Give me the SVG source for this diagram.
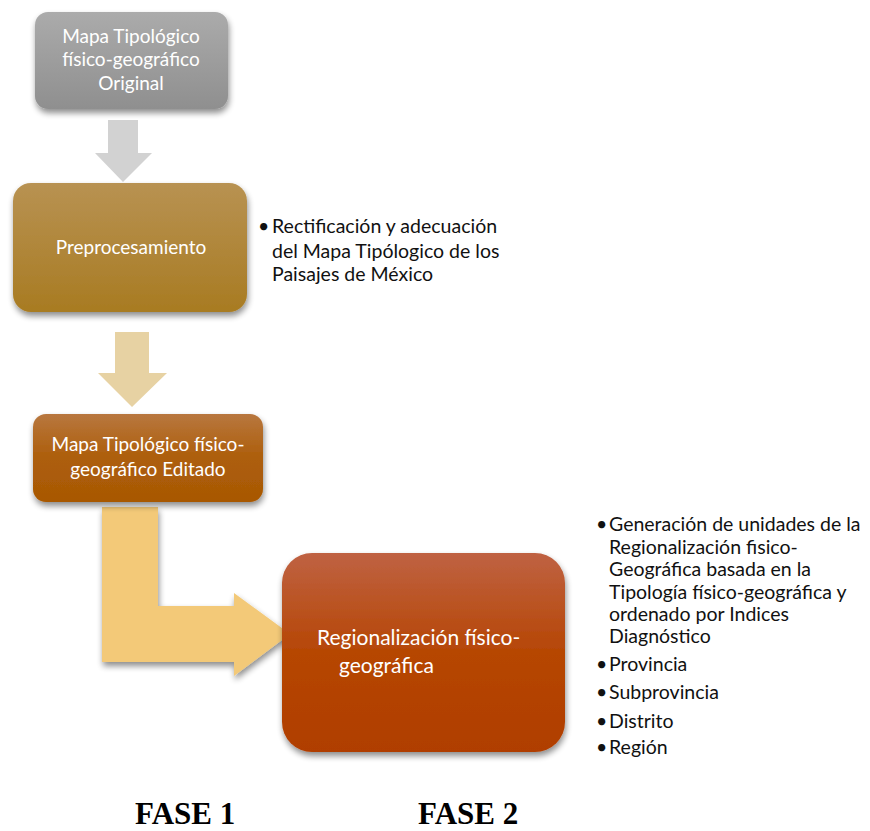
<svg xmlns="http://www.w3.org/2000/svg" width="870" height="831" viewBox="0 0 870 831">
<style>
.nt{font-family:Lato,"Noto Sans","Liberation Sans",sans-serif;fill:#ffffff;font-size:19px}
.bt{font-family:Lato,"Noto Sans","Liberation Sans",sans-serif;fill:#111111;font-size:19.5px}
.fase{font-family:"Liberation Serif","Times New Roman",serif;font-weight:bold;font-size:31px;fill:#000}
</style>
<defs>
<filter id="sh" x="-10%" y="-10%" width="125%" height="130%">
<feGaussianBlur in="SourceAlpha" stdDeviation="3"/>
<feOffset dx="1" dy="4" result="b"/>
<feComponentTransfer><feFuncA type="linear" slope="0.45"/></feComponentTransfer>
<feMerge><feMergeNode/><feMergeNode in="SourceGraphic"/></feMerge>
</filter>
<linearGradient id="g1" x1="0" y1="0" x2="0" y2="1"><stop offset="0" stop-color="#ababab"/><stop offset="1" stop-color="#8f8f8f"/></linearGradient>
<linearGradient id="g2" x1="0" y1="0" x2="0" y2="1"><stop offset="0" stop-color="#b89252"/><stop offset="1" stop-color="#a87b22"/></linearGradient>
<linearGradient id="g3" x1="0" y1="0" x2="0" y2="1"><stop offset="0" stop-color="#b8773f"/><stop offset="0.5" stop-color="#ad5e0a"/><stop offset="1" stop-color="#a85804"/></linearGradient>
<linearGradient id="g4" x1="0" y1="0" x2="0" y2="1"><stop offset="0" stop-color="#bf6243"/><stop offset="0.5" stop-color="#b64604"/><stop offset="1" stop-color="#b03e00"/></linearGradient>
</defs>
<g id="connectors">
<polygon points="108,120 138,120 138,153 152,153 123,182 95,153 108,153" fill="#d2d2d2"/>
<polygon points="115,332 149,332 149,373 167,373 132,407 98,373 115,373" fill="#e7d2a3"/>
<polygon points="102,507 158,507 158,606 234,606 234,593 290,634 234,676 234,662 102,662" fill="#f3c978" filter="url(#sh)"/>
</g>
<g id="n1">
<rect x="35" y="12" width="193" height="97" rx="13" fill="url(#g1)" filter="url(#sh)"/>
<text class="nt" text-anchor="middle" x="131" y="43">Mapa Tipológico</text>
<text class="nt" text-anchor="middle" x="131" y="66">físico-geográfico</text>
<text class="nt" text-anchor="middle" x="131" y="90">Original</text>
</g>
<g id="n2">
<rect x="13" y="183" width="234" height="129" rx="18" fill="url(#g2)" filter="url(#sh)"/>
<text class="nt" text-anchor="middle" x="131" y="254">Preprocesamiento</text>
</g>
<g id="n2note">
<text class="bt" x="258" y="233">•</text>
<text class="bt" x="272" y="233">Rectificación y adecuación</text>
<text class="bt" x="272" y="258">del Mapa Tipólogico de los</text>
<text class="bt" x="272" y="281">Paisajes de México</text>
</g>
<g id="n3">
<rect x="33" y="414" width="230" height="88" rx="13" fill="url(#g3)" filter="url(#sh)"/>
<text class="nt" text-anchor="middle" x="148" y="451">Mapa Tipológico físico-</text>
<text class="nt" text-anchor="middle" x="148" y="476">geográfico Editado</text>
</g>
<g id="n4">
<rect x="282" y="553" width="283" height="199" rx="30" fill="url(#g4)" filter="url(#sh)"/>
<text class="nt" x="317" y="645" style="font-size:21px">Regionalización físico-</text>
<text class="nt" x="339" y="673" style="font-size:21px">geográfica</text>
</g>
<g id="n4note">
<text class="bt" x="596" y="531">•</text>
<text class="bt" x="609" y="531">Generación de unidades de la</text>
<text class="bt" x="609" y="554">Regionalización fisico-</text>
<text class="bt" x="609" y="576">Geográfica basada en la</text>
<text class="bt" x="609" y="599">Tipología físico-geográfica y</text>
<text class="bt" x="609" y="621">ordenado por Indices</text>
<text class="bt" x="609" y="643">Diagnóstico</text>
<text class="bt" x="596" y="671">•</text>
<text class="bt" x="609" y="671">Provincia</text>
<text class="bt" x="596" y="699">•</text>
<text class="bt" x="609" y="699">Subprovincia</text>
<text class="bt" x="596" y="728">•</text>
<text class="bt" x="609" y="728">Distrito</text>
<text class="bt" x="596" y="754">•</text>
<text class="bt" x="609" y="754">Región</text>
</g>
<g id="labels">
<text class="fase" x="135" y="824">FASE 1</text>
<text class="fase" x="418" y="824">FASE 2</text>
</g>
</svg>
